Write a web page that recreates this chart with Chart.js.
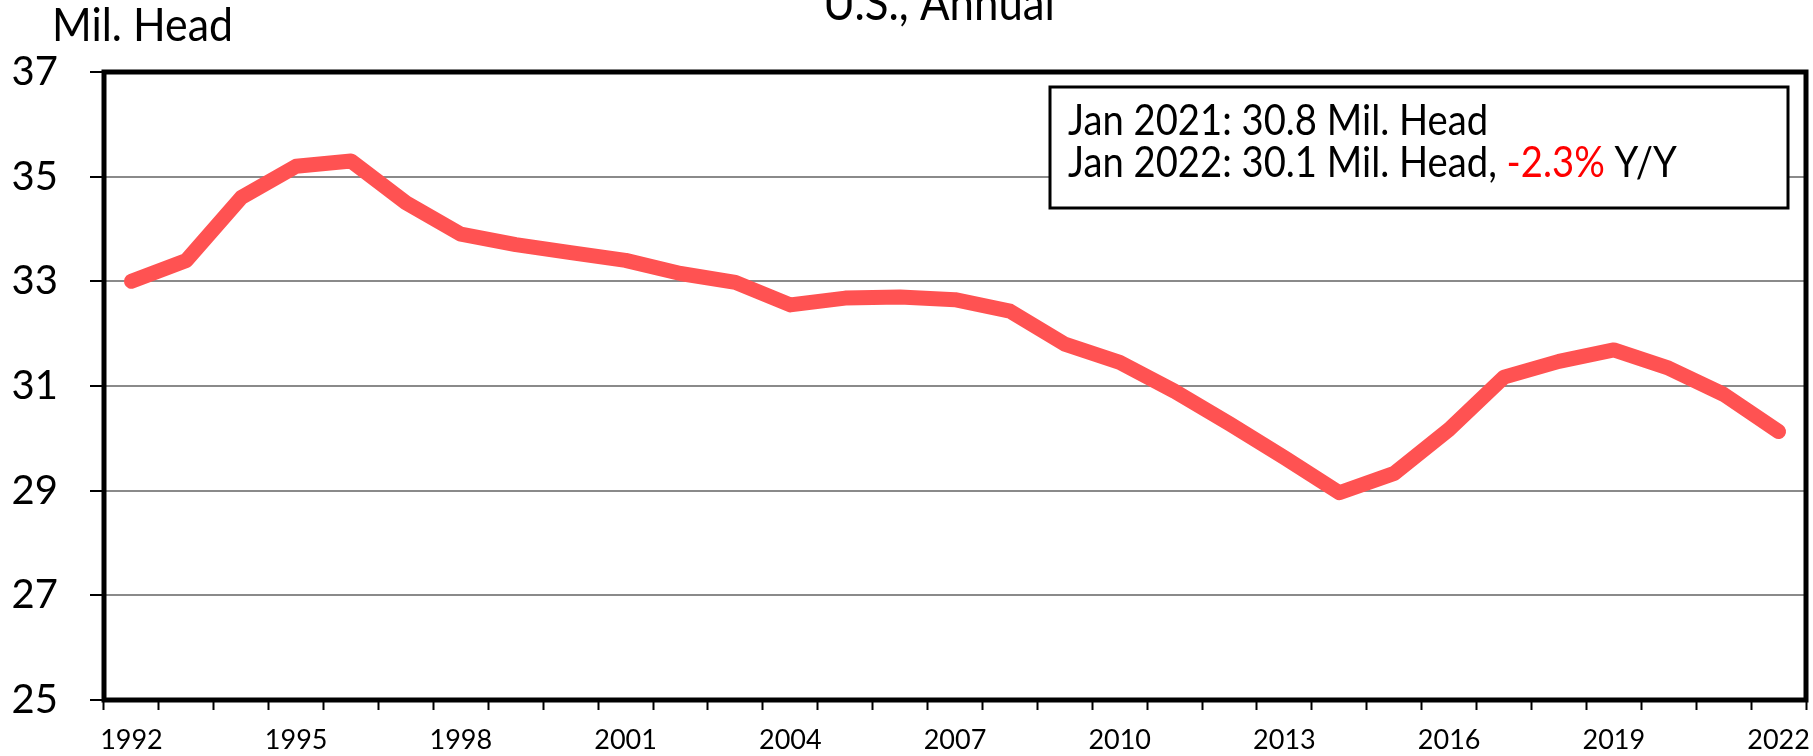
<!DOCTYPE html>
<html>
<head>
<meta charset="utf-8">
<title>Beef cows, U.S., Annual</title>
<script src="https://cdn.jsdelivr.net/npm/chart.js@4.4.1/dist/chart.umd.min.js"></script>
<style>
  html, body { margin: 0; padding: 0; background: #fff; }
  #chart { display: block; }
</style>
</head>
<body>
<canvas id="chart" width="1813" height="756"></canvas>
<script>
// 資料
const years = ['1992','1993','1994','1995','1996','1997','1998','1999','2000','2001',
               '2002','2003','2004','2005','2006','2007','2008','2009','2010','2011',
               '2012','2013','2014','2015','2016','2017','2018','2019','2020','2021','2022'];
const headMillions = [33.0, 33.4, 34.6, 35.2, 35.3, 34.5, 33.9, 33.7, 33.55, 33.4,
                      33.15, 32.98, 32.55, 32.68, 32.7, 32.65, 32.43, 31.8, 31.45, 30.9,
                      30.28, 29.63, 28.96, 29.33, 30.17, 31.17, 31.47, 31.69, 31.34, 30.84, 30.13];
const labelEvery = 3;          // 每三年標一個年份
const yMin = 25, yMax = 37, yStep = 2;

const titleText = 'U.S., Annual';
const unitText = 'Mil. Head';
const noteLine1 = 'Jan 2021: 30.8 Mil. Head';
const noteLine2 = ['Jan 2022: 30.1 Mil. Head, ', '-2.3%', ' Y/Y'];

const FONT = 'Lato, "Open Sans", sans-serif';
const STRETCH = 1.1;   // 原圖字體較窄較高，垂直拉長一點

// 依目標寬度算字級
function fitSize(ctx, text, target) {
    ctx.font = `100px ${FONT}`;
    return 100 * target / ctx.measureText(text).width;
}

// 以基線為準、垂直拉長後寫字
function tallText(ctx, text, x, y) {
    ctx.save();
    ctx.translate(x, y);
    ctx.scale(1, STRETCH);
    ctx.fillText(text, 0, 0);
    ctx.restore();
}

// 標題、單位、註解框與外框
const overlay = {
    id: 'overlay',
    afterDatasetsDraw(chart) {
        const ctx = chart.ctx;
        ctx.save();
        // 註解框
        const bx = 1050, by = 87, bw = 738, bh = 121;
        ctx.fillStyle = '#fff';
        ctx.fillRect(bx, by, bw, bh);
        ctx.strokeStyle = '#000';
        ctx.lineWidth = 3;
        ctx.strokeRect(bx, by, bw, bh);

        const size = fitSize(ctx, noteLine2.join(''), 609);
        ctx.font = `${size}px ${FONT}`;
        ctx.textBaseline = 'alphabetic';
        ctx.textAlign = 'left';
        ctx.fillStyle = '#000';
        tallText(ctx, noteLine1, 1068, 135);
        let x = 1068;
        noteLine2.forEach((part, i) => {
            ctx.fillStyle = i === 1 ? '#ff0000' : '#000';
            tallText(ctx, part, x, 177);
            x += ctx.measureText(part).width;
        });
        ctx.restore();
    },
    afterDraw(chart) {
        const { ctx, chartArea: a } = chart;
        ctx.save();
        ctx.strokeStyle = '#000';
        ctx.lineWidth = 5;
        ctx.strokeRect(a.left, a.top, a.right - a.left, a.bottom - a.top);

        ctx.fillStyle = '#000';
        ctx.textBaseline = 'alphabetic';
        ctx.textAlign = 'left';
        ctx.font = `${fitSize(ctx, unitText, 181)}px ${FONT}`;
        tallText(ctx, unitText, 52, 41);

        ctx.textAlign = 'center';
        ctx.font = `${fitSize(ctx, titleText, 232)}px ${FONT}`;
        tallText(ctx, titleText, 939, 20);
        ctx.restore();
    }
};

new Chart(document.getElementById('chart'), {
    type: 'line',
    data: {
        labels: years,
        datasets: [{
            data: headMillions,
            borderColor: '#ff5252',
            borderWidth: 15,
            borderCapStyle: 'round',
            borderJoinStyle: 'round',
            pointRadius: 0,
            tension: 0,
            fill: false
        }]
    },
    options: {
        responsive: false,
        animation: false,
        devicePixelRatio: 1,
        layout: { padding: { top: 72, right: 7, left: 0, bottom: 0 } },
        plugins: {
            legend: { display: false },
            tooltip: { enabled: false },
            title: { display: false }
        },
        scales: {
            x: {
                type: 'category',
                offset: true,
                // 固定高度，不讓首尾標籤把繪圖區往內擠
                afterFit: s => { s.height = 52; s.paddingLeft = 0; s.paddingRight = 0; },
                border: { display: false },
                grid: {
                    offset: true,
                    drawOnChartArea: false,
                    drawTicks: true,
                    tickLength: 10,
                    tickWidth: 2,
                    tickColor: '#000'
                },
                ticks: {
                    autoSkip: false,
                    maxRotation: 0,
                    padding: 14,
                    color: '#000',
                    font: { family: FONT, size: 27 },
                    callback: function (v, i) {
                        return i % labelEvery === 0 ? years[i] : '';
                    }
                }
            },
            y: {
                min: yMin,
                max: yMax,
                afterFit: s => { s.width = 104; },
                border: { display: false },
                grid: {
                    color: '#8a8a8a',
                    lineWidth: 2,
                    tickLength: 14,
                    tickWidth: 2,
                    tickColor: '#000'
                },
                ticks: {
                    stepSize: yStep,
                    padding: 32,
                    color: '#000',
                    font: { family: FONT, size: 40 }
                }
            }
        }
    },
    plugins: [overlay]
});
</script>
</body>
</html>
